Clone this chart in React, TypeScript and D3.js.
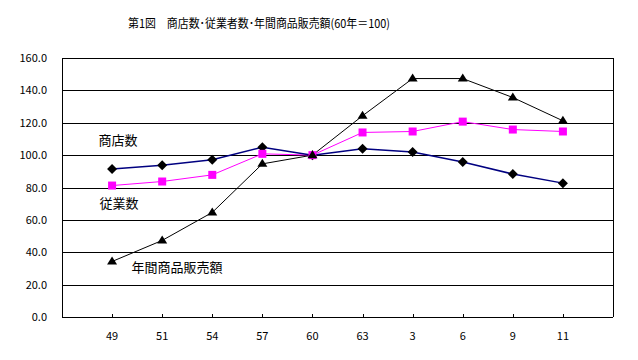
import React from "react";
import * as d3 from "d3";

const categories = ["49", "51", "54", "57", "60", "63", "3", "6", "9", "11"];
const stores = [91.5, 93.8, 97.1, 104.9, 100, 103.9, 101.9, 95.7, 88.3, 82.7];
const employees = [81.2, 83.7, 87.8, 100.8, 100, 114.0, 114.6, 120.7, 115.8, 114.6];
const sales = [34.3, 47.3, 64.6, 94.6, 100, 124.3, 147.3, 147.3, 135.6, 121.2];
const yTicks = [0, 20, 40, 60, 80, 100, 120, 140, 160];
const title = "第1図　商店数･従業者数･年間商品販売額(60年＝100)";

const W = 638, H = 360;
const L = 62, R = 613, T = 58, B = 317;
const font = "'Noto Sans CJK JP', 'Noto Sans', sans-serif";

export default function App() {
  const x = d3.scalePoint<string>().domain(categories).range([L, R]).padding(1);
  const y = d3.scaleLinear().domain([0, 160]).range([B, T]);
  const line = d3
    .line<number>()
    .x((_, i) => x(categories[i]) as number)
    .y((d) => y(d));

  return (
    <svg width={W} height={H} style={{ position: "absolute", left: 0, top: 0, background: "#fff" }}>
      <rect x={0} y={0} width={W} height={H} fill="#fff" />
      <text x={128} y={28} textLength={262} lengthAdjust="spacingAndGlyphs" fontFamily={font} fontSize={12} fill="#000">
        {title}
      </text>
      {yTicks.map((t) => (
        <g key={t}>
          <line x1={L} x2={R} y1={Math.round(y(t)) + 0.5} y2={Math.round(y(t)) + 0.5} stroke="#000" strokeWidth={1} />
          <text x={47} y={y(t) + 4} textAnchor="end" fontFamily={font} fontSize={11} fill="#000">
            {t.toFixed(1)}
          </text>
        </g>
      ))}
      <line x1={L + 0.5} x2={L + 0.5} y1={T} y2={B} stroke="#000" />
      <line x1={R + 0.5} x2={R + 0.5} y1={T} y2={B} stroke="#000" />
      {categories.map((c) => (
        <g key={c}>
          <line x1={Math.round(x(c) as number) + 0.5} x2={Math.round(x(c) as number) + 0.5} y1={B - 3} y2={B} stroke="#000" />
          <text x={x(c) as number} y={340} textAnchor="middle" fontFamily={font} fontSize={11} fill="#000">
            {c}
          </text>
        </g>
      ))}
      <path d={line(sales) || ""} fill="none" stroke="#000" strokeWidth={1} />
      <path d={line(employees) || ""} fill="none" stroke="#FF00FF" strokeWidth={1} />
      <path d={line(stores) || ""} fill="none" stroke="#000080" strokeWidth={1.5} />
      {stores.map((v, i) => {
        const cx = x(categories[i]) as number, cy = y(v);
        return <path key={"s" + i} d={`M${cx},${cy - 5}L${cx + 5},${cy}L${cx},${cy + 5}L${cx - 5},${cy}Z`} fill="#000" />;
      })}
      {employees.map((v, i) => {
        const cx = x(categories[i]) as number, cy = y(v);
        return <rect key={"e" + i} x={cx - 4} y={cy - 4} width={8} height={8} fill="#FF00FF" />;
      })}
      {sales.map((v, i) => {
        const cx = x(categories[i]) as number, cy = y(v);
        return <path key={"a" + i} d={`M${cx},${cy - 5}L${cx + 5},${cy + 3}L${cx - 5},${cy + 3}Z`} fill="#000" />;
      })}
      <text x={118} y={145} textAnchor="middle" fontFamily={font} fontSize={13} fill="#000">商店数</text>
      <text x={119} y={208} textAnchor="middle" fontFamily={font} fontSize={13} fill="#000">従業数</text>
      <text x={177} y={272} textAnchor="middle" fontFamily={font} fontSize={13} fill="#000">年間商品販売額</text>
    </svg>
  );
}
